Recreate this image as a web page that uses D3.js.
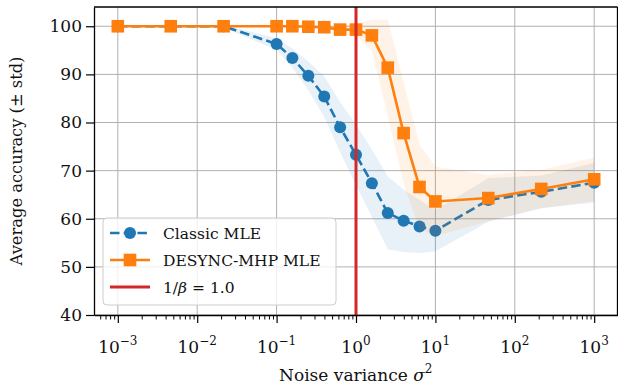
<!DOCTYPE html>
<html>
<head>
<meta charset="utf-8">
<script src="https://cdn.jsdelivr.net/npm/d3@7"></script>
<style>
  body { margin: 0; background: #fff; }
  text { font-family: "DejaVu Serif", serif; fill: #111; }
</style>
</head>
<body>
<svg id="chart" width="618" height="385"></svg>
<script>
// noise variance values (x axis)
const sigma2 = [0.001, 0.00464, 0.0215, 0.1, 0.158, 0.251, 0.398, 0.631, 1, 1.585, 2.512, 3.981, 6.31, 10, 46.4, 215.4, 1000];

const classicMean = [100, 100, 100, 96.3, 93.4, 89.7, 85.4, 79.0, 73.3, 67.4, 61.2, 59.6, 58.4, 57.5, 63.9, 65.6, 67.5];
const classicStd = [0.2, 0.2, 0.3, 1.2, 2.0, 3.0, 4.2, 5.2, 6.3, 7.0, 7.6, 6.5, 5.5, 4.3, 4.5, 3.4, 4.1];

const desyncMean = [100, 100, 100, 100, 100, 99.9, 99.8, 99.3, 99.3, 98.1, 91.4, 77.8, 66.6, 63.6, 64.3, 66.2, 68.2];
const desyncStd = [0, 0, 0, 0, 0, 0.2, 0.3, 0.8, 1.2, 3.2, 10, 10.5, 8.8, 7.2, 4.8, 4.0, 4.5];

const xTicks = [1e-3, 1e-2, 1e-1, 1e0, 1e1, 1e2, 1e3];
const xTickExp = ["−3", "−2", "−1", "0", "1", "2", "3"];
const yTicks = [40, 50, 60, 70, 80, 90, 100];
const betaInv = 1.0;

const blue = "#1f77b4";
const orange = "#ff7f0e";
const red = "#d62728";

const width = 618;
const height = 385;
const margin = { top: 7, right: 0, bottom: 70, left: 94 };

const svg = d3.select("#chart");

const x = d3
  .scaleLog()
  .domain([Math.pow(10, -3.3), Math.pow(10, 3.3)])
  .range([margin.left, width - margin.right]);

const y = d3
  .scaleLinear()
  .domain([40, 104])
  .range([height - margin.bottom, margin.top]);

const x0 = margin.left;
const x1 = width - margin.right - 0.5;
const yB = height - margin.bottom;
const yT = margin.top;

// grid
const grid = svg.append("g").attr("class", "grid");
grid
  .selectAll(".vg")
  .data(xTicks)
  .join("line")
  .attr("x1", (d) => x(d))
  .attr("x2", (d) => x(d))
  .attr("y1", yT)
  .attr("y2", yB)
  .attr("stroke", "#b0b0b0")
  .attr("stroke-width", 1);
grid
  .selectAll(".hg")
  .data(yTicks)
  .join("line")
  .attr("x1", x0)
  .attr("x2", x1)
  .attr("y1", (d) => y(d))
  .attr("y2", (d) => y(d))
  .attr("stroke", "#b0b0b0")
  .attr("stroke-width", 1);

const classic = sigma2.map((s, i) => ({ s, m: classicMean[i], sd: classicStd[i] }));
const desync = sigma2.map((s, i) => ({ s, m: desyncMean[i], sd: desyncStd[i] }));

const area = d3
  .area()
  .x((d) => x(d.s))
  .y0((d) => y(d.m - d.sd))
  .y1((d) => y(d.m + d.sd));

const line = d3
  .line()
  .x((d) => x(d.s))
  .y((d) => y(d.m));

// classic MLE
svg.append("path").attr("d", area(classic)).attr("fill", blue).attr("fill-opacity", 0.1);
svg
  .append("path")
  .attr("d", line(classic))
  .attr("fill", "none")
  .attr("stroke", blue)
  .attr("stroke-width", 2.6)
  .attr("stroke-dasharray", "9.5,4.2");
svg
  .selectAll(".dot")
  .data(classic)
  .join("circle")
  .attr("class", "dot")
  .attr("cx", (d) => x(d.s))
  .attr("cy", (d) => y(d.m))
  .attr("r", 6)
  .attr("fill", blue);

// DESYNC-MHP MLE
svg.append("path").attr("d", area(desync)).attr("fill", orange).attr("fill-opacity", 0.1);
svg
  .append("path")
  .attr("d", line(desync))
  .attr("fill", "none")
  .attr("stroke", orange)
  .attr("stroke-width", 2.6);
const sq = 12.6;
svg
  .selectAll(".sq")
  .data(desync)
  .join("rect")
  .attr("class", "sq")
  .attr("x", (d) => x(d.s) - sq / 2)
  .attr("y", (d) => y(d.m) - sq / 2)
  .attr("width", sq)
  .attr("height", sq)
  .attr("fill", orange);

// 1/beta line
svg
  .append("line")
  .attr("x1", x(betaInv))
  .attr("x2", x(betaInv))
  .attr("y1", yT)
  .attr("y2", yB)
  .attr("stroke", red)
  .attr("stroke-width", 3);

// axes
const minorTicks = [];
for (let e = -4; e <= 3; e++) {
  for (let k = 2; k <= 9; k++) {
    const v = k * Math.pow(10, e);
    if (v > x.domain()[0] && v < x.domain()[1]) minorTicks.push(v);
  }
}

svg
  .append("g")
  .attr("transform", `translate(0,${yB})`)
  .call(d3.axisBottom(x).tickValues(minorTicks).tickSize(4.5).tickFormat(""))
  .call((g) => g.select(".domain").remove())
  .selectAll("line")
  .attr("stroke", "#000")
  .attr("stroke-width", 1);

const xAxis = svg
  .append("g")
  .attr("transform", `translate(0,${yB})`)
  .call(d3.axisBottom(x).tickValues(xTicks).tickSize(8).tickSizeOuter(0).tickFormat(""));
xAxis.select(".domain").attr("stroke", "#000").attr("stroke-width", 1.3);
xAxis.selectAll("line").attr("stroke", "#000").attr("stroke-width", 1.2);

const xl = svg
  .selectAll(".xlab")
  .data(xTicks)
  .join("text")
  .attr("class", "xlab")
  .attr("x", (d) => x(d))
  .attr("y", 353)
  .attr("text-anchor", "middle")
  .style("font-size", "17px");
xl.append("tspan").text("10");
xl.append("tspan")
  .attr("dy", -8)
  .style("font-size", "12px")
  .text((d, i) => xTickExp[i]);

const yAxis = svg
  .append("g")
  .attr("transform", `translate(${x0},0)`)
  .call(d3.axisLeft(y).tickValues(yTicks).tickSize(8).tickSizeOuter(0).tickPadding(4));
yAxis.select(".domain").attr("stroke", "#000").attr("stroke-width", 1.3);
yAxis.selectAll("line").attr("stroke", "#000").attr("stroke-width", 1.2);
yAxis
  .selectAll("text")
  .style("font-family", '"DejaVu Serif", serif')
  .style("font-size", "17px")
  .attr("fill", "#111");

// top and right spines
svg.append("line").attr("x1", x0).attr("x2", x1).attr("y1", yT).attr("y2", yT).attr("stroke", "#000").attr("stroke-width", 1.3);
svg.append("line").attr("x1", x1).attr("x2", x1).attr("y1", yT).attr("y2", yB).attr("stroke", "#000").attr("stroke-width", 1.3);

// axis labels
const xLabel = svg
  .append("text")
  .attr("x", (x0 + x1) / 2)
  .attr("y", 381)
  .attr("text-anchor", "middle")
  .style("font-size", "17px");
xLabel.append("tspan").text("Noise variance ");
xLabel.append("tspan").style("font-style", "italic").text("σ");
xLabel.append("tspan").attr("dy", -8).style("font-size", "12px").text("2");

svg
  .append("text")
  .attr("transform", `translate(22,${(yT + yB) / 2}) rotate(-90)`)
  .attr("text-anchor", "middle")
  .style("font-size", "16.3px")
  .text("Average accuracy (± std)");

// legend
const lg = svg.append("g").attr("transform", "translate(103,218)");
lg.append("rect")
  .attr("width", 233)
  .attr("height", 87)
  .attr("rx", 4)
  .attr("fill", "#fff")
  .attr("fill-opacity", 0.8)
  .attr("stroke", "#cccccc")
  .attr("stroke-width", 1);

const items = [
  { name: "Classic MLE", color: blue, dash: "9.5,4.2", marker: "circle" },
  { name: "DESYNC-MHP MLE", color: orange, dash: null, marker: "square" },
  { name: "beta", color: red, dash: null, marker: null },
];

items.forEach((it, i) => {
  const cy = 15 + i * 27;
  lg.append("line")
    .attr("x1", 7)
    .attr("x2", 47)
    .attr("y1", cy)
    .attr("y2", cy)
    .attr("stroke", it.color)
    .attr("stroke-width", it.marker ? 2.6 : 3)
    .attr("stroke-dasharray", it.dash);
  if (it.marker === "circle") {
    lg.append("circle").attr("cx", 27).attr("cy", cy).attr("r", 6).attr("fill", it.color);
  } else if (it.marker === "square") {
    lg.append("rect")
      .attr("x", 27 - sq / 2)
      .attr("y", cy - sq / 2)
      .attr("width", sq)
      .attr("height", sq)
      .attr("fill", it.color);
  }
  const t = lg.append("text").attr("x", 60).attr("y", cy + 5.5).style("font-size", "15.5px");
  if (it.name === "beta") {
    t.append("tspan").text("1/");
    t.append("tspan").style("font-style", "italic").text("β");
    t.append("tspan").text(" = " + betaInv.toFixed(1));
  } else {
    t.text(it.name);
  }
});
</script>
</body>
</html>
